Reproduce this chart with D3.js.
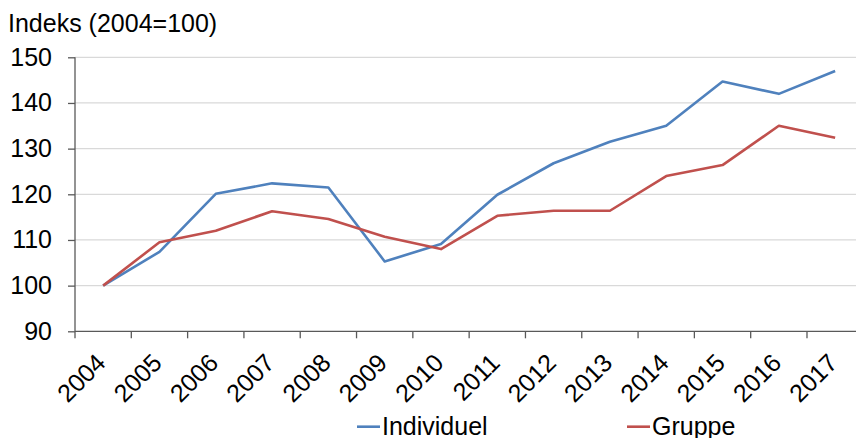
<!DOCTYPE html>
<html><head><meta charset="utf-8">
<script src="https://cdn.jsdelivr.net/npm/d3@7"></script>
<style>
html,body{margin:0;padding:0;background:#fff;overflow:hidden}
text{font-family:"Liberation Sans",Arial,sans-serif;fill:#000}
</style></head>
<body><svg id="c" width="856" height="438"></svg>
<script>
const years = ["2004","2005","2006","2007","2008","2009","2010","2011","2012","2013","2014","2015","2016","2017"];
const individuel = [100,107.4,120.1,122.4,121.5,105.3,109.1,119.9,126.8,131.5,135.0,144.7,142.0,147.0];
const gruppe = [100,109.5,112.0,116.3,114.6,110.7,108.0,115.3,116.4,116.4,124.0,126.4,135.0,132.4];
const yTicks = [90,100,110,120,130,140,150];
const seriesNames = ["Individuel","Gruppe"];
const colors = ["#4F81BD","#C0504D"];
const yTitle = "Indeks (2004=100)";

(function(){
const svg = d3.select("#c");
const pL = 75, pR = 863.3, pT = 57.3, pB = 331.3;
const fs = "25px";
const x = d3.scaleBand().domain(years).range([pL, pR]);
const y = d3.scaleLinear().domain([90,150]).range([pB, pT]);

// gridlines
svg.append("g").selectAll("line").data(yTicks.slice(1)).join("line")
  .attr("x1", pL).attr("x2", pR)
  .attr("y1", d => y(d)).attr("y2", d => y(d))
  .attr("stroke", "#d9d9d9").attr("stroke-width", 1.3);

// y axis
const ya = svg.append("g").attr("transform", `translate(${pL},0)`)
  .call(d3.axisLeft(y).tickValues(yTicks).tickSize(7).tickPadding(16));
ya.select(".domain").attr("stroke", "#595959").attr("stroke-width", 1.3).attr("d", `M0,${pT}V${pB}`);
ya.selectAll(".tick line").attr("stroke", "#595959").attr("stroke-width", 1.3);
ya.selectAll(".tick text").style("font-size", fs).attr("font-family", "Liberation Sans, Arial").attr("fill", "#000");

// x axis with ticks at band boundaries
const xa = svg.append("g").attr("transform", `translate(0,${pB})`);
xa.append("line").attr("x1", pL).attr("x2", pR).attr("stroke", "#595959").attr("stroke-width", 1.3);
const bounds = years.map(d => x(d)).concat([pR]);
xa.selectAll("line.t").data(bounds).join("line").attr("class","t")
  .attr("x1", d => d).attr("x2", d => d).attr("y1", 0).attr("y2", 7)
  .attr("stroke", "#595959").attr("stroke-width", 1.3);
xa.selectAll("text").data(years).join("text")
  .attr("transform", d => `translate(${x(d) + x.bandwidth()/2 + 4},${33}) rotate(-45)`)
  .attr("text-anchor", "end")
  .style("font-size", fs).text(d => d);

// y title
svg.append("text").attr("x", 8).attr("y", 32).style("font-size", fs).text(yTitle);

// lines
const line = d3.line().x((d,i) => x(years[i]) + x.bandwidth()/2).y(d => y(d));
[individuel, gruppe].forEach((s, k) => {
  svg.append("path").datum(s).attr("d", line).attr("fill", "none")
    .attr("stroke", colors[k]).attr("stroke-width", 2.6).attr("stroke-linejoin", "round");
});

// legend
const legX = [357, 627];
seriesNames.forEach((n, k) => {
  const g = svg.append("g");
  g.append("line").attr("x1", legX[k]).attr("x2", legX[k] + 23).attr("y1", 426.7).attr("y2", 426.7)
    .attr("stroke", colors[k]).attr("stroke-width", 2.6);
  g.append("text").attr("x", legX[k] + 25).attr("y", 435).style("font-size", fs).text(n);
});
})();
</script></body></html>
